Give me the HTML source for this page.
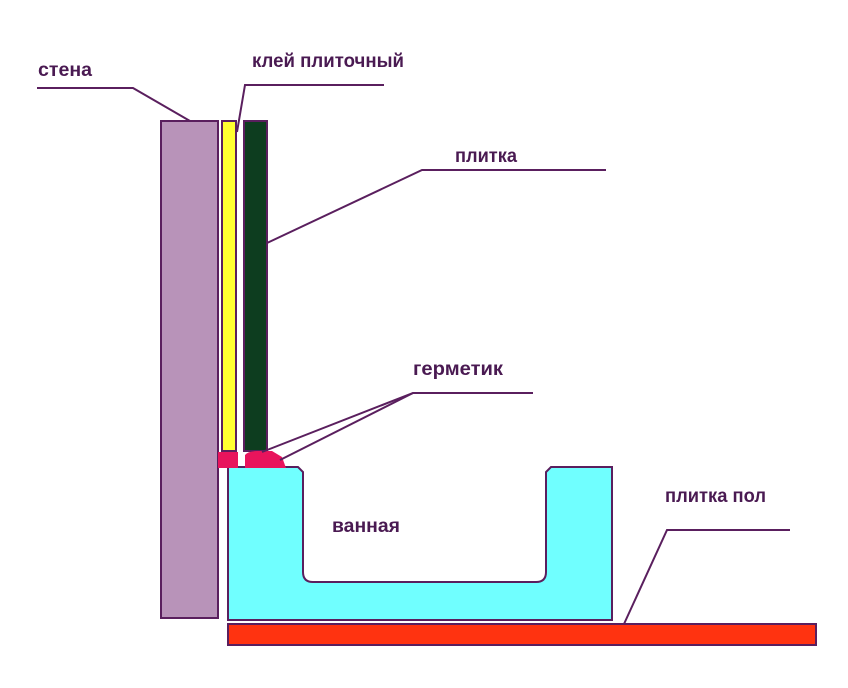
<!DOCTYPE html>
<html><head><meta charset="utf-8"><style>
html,body{margin:0;padding:0;background:#fff;}
svg{display:block}
text{font-family:"Liberation Sans",sans-serif;font-size:19px;font-weight:bold;fill:#4a1a52;}
</style></head><body>
<svg width="848" height="688" viewBox="0 0 848 688" xmlns="http://www.w3.org/2000/svg">
<g stroke="#5a1f5e" stroke-width="2">
<rect x="161" y="121" width="57" height="497" fill="#b893b9"/>
<rect x="222" y="121" width="14" height="330" fill="#ffff30"/>
<rect x="244" y="121" width="23" height="330" fill="#0d3d1f"/>
<path d="M228 467 H298 L303 472 V572 Q303 582 313 582 H536 Q546 582 546 572 V472 L551 467 H612 V620 H228 Z" fill="#70ffff"/>
<rect x="228" y="624" width="588" height="21" fill="#ff3310"/>
</g>
<rect x="218" y="452" width="20" height="16" fill="#e8145c"/>
<path d="M245 468 V455 Q248 451 258 451 H272 L282 457 L286 468 Z" fill="#e8145c"/>
<g stroke="#5a1f5e" stroke-width="2" fill="none">
<polyline points="37,88 133,88 190,121"/>
<polyline points="384,85 245,85 237,132"/>
<polyline points="606,170 422,170 267,243"/>
<polyline points="533,393 413,393 262,452"/>
<polyline points="413,393 280,460"/>
<polyline points="790,530 667,530 624,624"/>
</g>
<text x="38" y="76" textLength="54" lengthAdjust="spacingAndGlyphs">стена</text>
<text x="252" y="67" textLength="152" lengthAdjust="spacingAndGlyphs">клей плиточный</text>
<text x="455" y="162" textLength="62" lengthAdjust="spacingAndGlyphs">плитка</text>
<text x="413" y="375" textLength="90" lengthAdjust="spacingAndGlyphs">герметик</text>
<text x="332" y="532" textLength="68" lengthAdjust="spacingAndGlyphs">ванная</text>
<text x="665" y="502" textLength="101" lengthAdjust="spacingAndGlyphs">плитка пол</text>
</svg>
</body></html>
